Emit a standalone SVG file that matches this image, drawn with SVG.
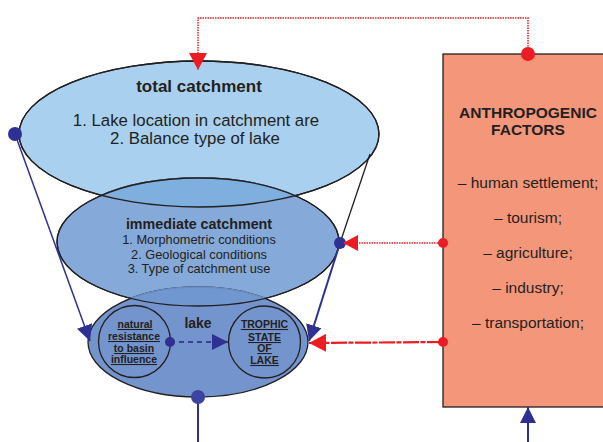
<svg xmlns="http://www.w3.org/2000/svg" xmlns:xlink="http://www.w3.org/1999/xlink" width="603" height="442" viewBox="0 0 603 442">
<style>
text{font-family:"Liberation Sans",Arial,sans-serif;fill:#231F20;text-anchor:middle}
.b{font-weight:bold}
.u{font-weight:bold;font-size:10.5px;text-decoration:underline}
.edge{fill:none;stroke:#231F20;stroke-width:1.3}
.navy{stroke:#2E3192;fill:none}
.red{stroke:#ED1C24;fill:none}
</style>
<defs>
<ellipse id="eTot" cx="199" cy="134" rx="180" ry="73"/>
<ellipse id="eImm" cx="198" cy="242" rx="141" ry="64"/>
<ellipse id="eLake" cx="198" cy="342" rx="110" ry="55"/>
<clipPath id="cTot"><use xlink:href="#eTot"/></clipPath>
<clipPath id="cImm"><use xlink:href="#eImm"/></clipPath>
<marker id="aNavy" markerUnits="userSpaceOnUse" markerWidth="18" markerHeight="16" refX="16" refY="8" orient="auto"><path d="M0,0 L16,8 L0,16 Z" fill="#2E3192"/></marker>
<marker id="aRed" markerUnits="userSpaceOnUse" markerWidth="18" markerHeight="16" refX="15" refY="8" orient="auto"><path d="M0,0 L15,8 L0,16 Z" fill="#ED1C24"/></marker>
<marker id="aRed2" markerUnits="userSpaceOnUse" markerWidth="18" markerHeight="18" refX="17" refY="9" orient="auto"><path d="M0,0 L17,9 L0,18 Z" fill="#ED1C24"/></marker>
</defs>

<g id="total-catchment">
<use xlink:href="#eTot" fill="#A9D0EE" stroke="#231F20" stroke-width="1.3"/>
<text class="b" x="199" y="92" font-size="17">total catchment</text>
<text x="196" y="126" font-size="16.8">1. Lake location in catchment are</text>
<text x="195" y="144" font-size="16.8">2. Balance type of lake</text>
</g>

<g id="immediate-catchment">
<use xlink:href="#eImm" fill="#85A9D8" stroke="#231F20" stroke-width="1.3"/>
<use xlink:href="#eImm" clip-path="url(#cTot)" fill="#7FAFDF" stroke="#6F93BE" stroke-width="1.3"/>
<use xlink:href="#eTot" class="edge"/>
<text class="b" x="199" y="229" font-size="14.3">immediate catchment</text>
<text x="199" y="244" font-size="12.8">1. Morphometric conditions</text>
<text x="199" y="259" font-size="12.8">2. Geological conditions</text>
<text x="199" y="273" font-size="12.8">3. Type of catchment use</text>
</g>

<g id="lake">
<use xlink:href="#eLake" fill="#7494CD" stroke="#231F20" stroke-width="1.3"/>
<use xlink:href="#eLake" clip-path="url(#cImm)" fill="#7097D0" stroke="#6A8CC0" stroke-width="1.3"/>
<use xlink:href="#eImm" class="edge"/>
<text class="b" x="198" y="328" font-size="14">lake</text>
</g>

<g id="natural-resistance">
<circle cx="134.5" cy="341.5" r="36" class="edge"/>
<text class="u" x="135" y="328">natural</text>
<text class="u" x="134" y="340">resistance</text>
<text class="u" x="134" y="352">to basin</text>
<text class="u" x="134" y="363">influence</text>
</g>

<g id="trophic-state">
<circle cx="264.5" cy="342" r="36" class="edge"/>
<text class="u" x="264.5" y="328">TROPHIC</text>
<text class="u" x="264.5" y="341">STATE</text>
<text class="u" x="264.5" y="352">OF</text>
<text class="u" x="264.5" y="364">LAKE</text>
</g>

<g id="anthropogenic-factors">
<rect x="443" y="54" width="170" height="353" fill="#F4967A" stroke="#231F20" stroke-width="1.3"/>
<text class="b" x="528" y="118" font-size="15.5">ANTHROPOGENIC</text>
<text class="b" x="528" y="135" font-size="15.5">FACTORS</text>
<text x="528" y="188" font-size="15.5">– human settlement;</text>
<text x="528" y="223" font-size="15.5">– tourism;</text>
<text x="528" y="258" font-size="15.5">– agriculture;</text>
<text x="528" y="293" font-size="15.5">– industry;</text>
<text x="528" y="328" font-size="15.5">– transportation;</text>
</g>

<g id="connectors">
<line x1="370" y1="154" x2="340" y2="243" stroke="#231F20" stroke-width="1.3"/>
<line x1="15" y1="134" x2="90" y2="341" class="navy" stroke-width="1.5" marker-end="url(#aNavy)"/>
<circle cx="15" cy="134" r="7" fill="#2E3192"/>
<line x1="340" y1="243" x2="309" y2="341" class="navy" stroke-width="2" marker-end="url(#aNavy)"/>
<circle cx="340" cy="243" r="6" fill="#2E3192"/>
<line x1="170" y1="342" x2="228" y2="342" stroke="#3A3F9A" stroke-width="2" stroke-dasharray="5 4" marker-end="url(#aNavy)"/>
<circle cx="170" cy="342" r="5" fill="#2E3192"/>
<line x1="198" y1="397" x2="198" y2="442" class="navy" stroke-width="2"/>
<circle cx="198" cy="397" r="7" fill="#3B45A0"/>
<line x1="528" y1="442" x2="528" y2="407" class="navy" stroke-width="2" marker-end="url(#aNavy)"/>
<path d="M528,54 V18 H198 V70" class="red" stroke-width="1.5" stroke-dasharray="1.5 1" marker-end="url(#aRed2)"/>
<circle cx="528" cy="54" r="7" fill="#ED1C24"/>
<line x1="443" y1="243" x2="343" y2="243" class="red" stroke-width="1.5" stroke-dasharray="1.5 1" marker-end="url(#aRed)"/>
<circle cx="443" cy="243" r="5" fill="#ED1C24"/>
<line x1="443" y1="342" x2="309" y2="343" class="red" stroke-width="2.2" stroke-dasharray="16 1.5 5 1.5" marker-end="url(#aRed2)"/>
<circle cx="443" cy="342" r="5" fill="#ED1C24"/>
</g>
</svg>
